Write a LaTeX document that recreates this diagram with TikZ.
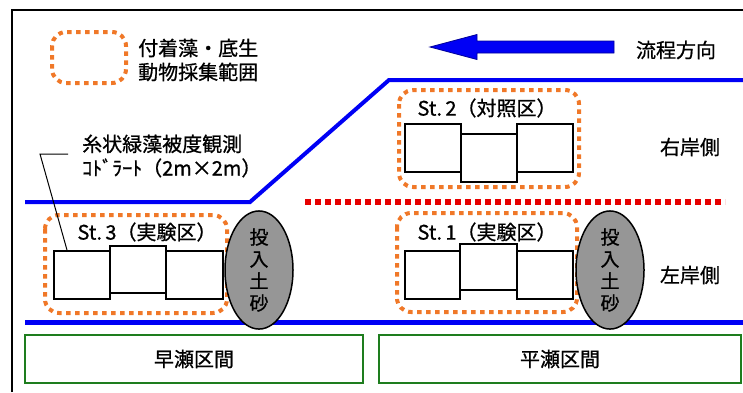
\documentclass[tikz,border=0pt]{standalone}
\usepackage{fontspec}
\setmainfont{Noto Sans CJK JP}[FakeBold=0.8]
\usetikzlibrary{shapes.geometric}
\definecolor{orangeC}{RGB}{240,120,40}
\definecolor{blueC}{RGB}{0,0,245}
\definecolor{redC}{RGB}{230,0,0}
\definecolor{greenC}{RGB}{30,125,30}
\definecolor{grayC}{RGB}{150,150,150}
\begin{document}
\begin{tikzpicture}[x=1pt,y=-1pt,
  lbl/.style={font=\fontsize{20}{24}\selectfont, inner sep=0pt},
  quad/.style={draw=black, line width=2.4pt, fill=white, inner sep=0pt, anchor=north west},
  sample/.style={draw=orangeC, line width=4pt, dash pattern=on 4.5pt off 4.5pt, rounded corners=14pt},
  bank/.style={draw=blueC, line width=4pt},
  sect/.style={draw=greenC, line width=2.5pt, inner sep=0pt, font=\fontsize{20}{24}\selectfont},
  soil/.style={ellipse, draw=black, line width=1.5pt, fill=grayC, minimum width=68pt, minimum height=96pt, inner sep=0pt, align=center, font=\fontsize{19}{22}\selectfont}]
\useasboundingbox (0,0) rectangle (743,392);
% frame
\draw[line width=2.5pt] (12,392) -- (12,10) -- (743,10);
% legend
\draw[sample] (52,32) rectangle (126,83);
\node[lbl, anchor=west, align=left] (legend) at (138,60) {付着藻・底生\\動物採集範囲};
% flow arrow
\draw[draw=blue!60!black, fill=blueC, line width=0.8pt] (430,47) -- (477,34.5) -- (477,41) -- (614,41) -- (614,53) -- (477,53) -- (477,59.5) -- cycle;
\node[lbl] (flow) at (676,50) {流程方向};
% banks
\draw[bank] (25,202) -- (250,202) -- (389,80) -- (743,80);
\draw[bank, line width=5pt] (25,322) -- (743,322);
\draw[draw=redC, line width=6pt, dash pattern=on 6pt off 4pt] (305,202) -- (725,202);
\node[lbl] (rb) at (690,147) {右岸側};
\node[lbl] (lb) at (690,275) {左岸側};
% St.2
\node[quad, minimum width=56pt, minimum height=48pt] (b2l) at (404,123) {};
\node[quad, minimum width=56pt, minimum height=48pt] (b2m) at (460,133) {};
\node[quad, minimum width=56pt, minimum height=48pt] (b2r) at (516,123) {};
\draw[sample] (399,90) rectangle (579,187);
\node[lbl] (st2) at (487,108) {St.\,2（対照区）};
% St.3
\node[quad, minimum width=56pt, minimum height=48pt] (b3l) at (53,250) {};
\node[quad, minimum width=56pt, minimum height=47pt] (b3m) at (109,245) {};
\node[quad, minimum width=57pt, minimum height=48pt] (b3r) at (165,250) {};
\draw[sample] (45,215) rectangle (227,313);
\node[lbl] (st3) at (147,232) {St.\,3（実験区）};
\node[soil] (soil3) at (259,270) {投\\入\\土\\砂};
% St.1
\node[quad, minimum width=55pt, minimum height=48pt] (b1l) at (404,250) {};
\node[quad, minimum width=57pt, minimum height=46pt] (b1m) at (459,243) {};
\node[quad, minimum width=56pt, minimum height=48pt] (b1r) at (516,250) {};
\draw[sample] (397,213) rectangle (577,312);
\node[lbl] (st1) at (487,232) {St.\,1（実験区）};
\node[soil] (soil1) at (610,270) {投\\入\\土\\砂};
% annotation
\node[lbl, anchor=west, align=left] (ann) at (82,156) {糸状緑藻被度観測\\ｺﾄﾞﾗｰﾄ（2m×2m）};
\coordinate (annend) at (68,154);
\coordinate (anncorner) at (40,154);
\draw[line width=1pt] (annend) -- (anncorner) -- ([xshift=14pt]b3l.north west);
% sections
\node[sect, minimum width=338pt, minimum height=48pt] (fast) at (194,359) {早瀬区間};
\node[sect, minimum width=362pt, minimum height=48pt] (flat) at (560,359) {平瀬区間};
\end{tikzpicture}
\end{document}
